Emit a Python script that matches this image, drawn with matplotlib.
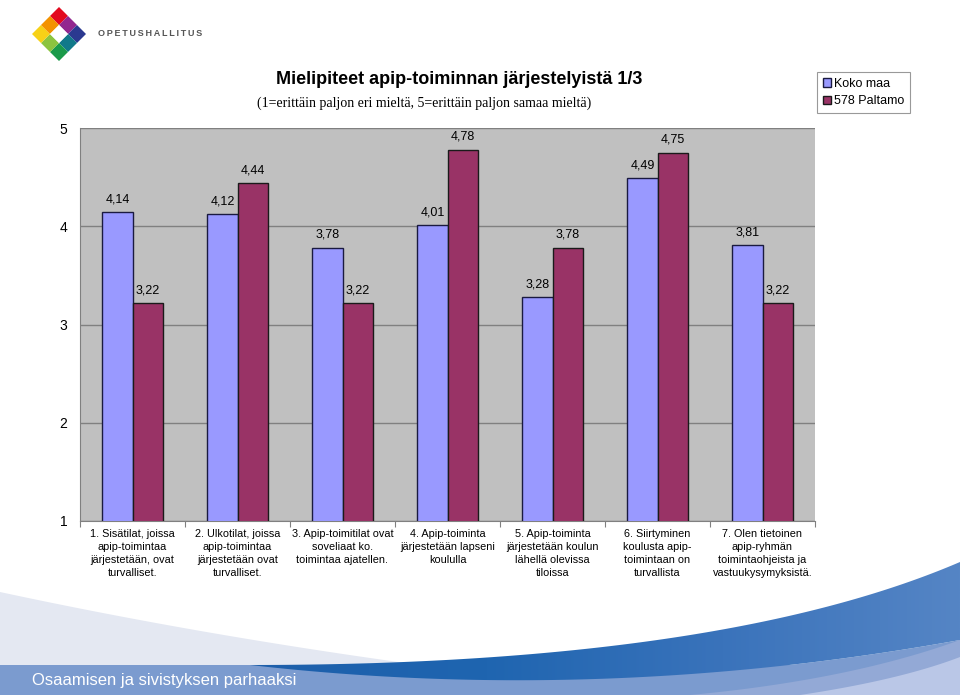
import numpy as np
import matplotlib
matplotlib.use('Agg')
import matplotlib.pyplot as plt
from matplotlib.patches import Polygon

plt.rcParams['font.family'] = ['Liberation Sans', 'DejaVu Sans']

# Data
categories = [
    '1. Sisätilat, joissa\napip-toimintaa\njärjestetään, ovat\nturvalliset.',
    '2. Ulkotilat, joissa\napip-toimintaa\njärjestetään ovat\nturvalliset.',
    '3. Apip-toimitilat ovat\nsoveliaat ko.\ntoimintaa ajatellen.',
    '4. Apip-toiminta\njärjestetään lapseni\nkoululla',
    '5. Apip-toiminta\njärjestetään koulun\nlähellä olevissa\ntiloissa',
    '6. Siirtyminen\nkoulusta apip-\ntoimintaan on\nturvallista',
    '7. Olen tietoinen\napip-ryhmän\ntoimintaohjeista ja\nvastuukysymyksistä.',
]
koko_maa = [4.14, 4.12, 3.78, 4.01, 3.28, 4.49, 3.81]
paltamo = [3.22, 4.44, 3.22, 4.78, 3.78, 4.75, 3.22]
series_names = ['Koko maa', '578 Paltamo']


# Bezier-käyrä taustan aaltoihin
def bez(p0, p1, p2, n=200):
    t = np.linspace(0, 1, n)[:, None]
    p = (1 - t)**2 * np.array(p0) + 2 * (1 - t) * t * np.array(p1) + t**2 * np.array(p2)
    return p[:, 0], p[:, 1]


fig = plt.figure(figsize=(9.6, 6.95), dpi=100)

# Tausta (logo + aalto), pikselikoordinaatit
bg = fig.add_axes([0, 0, 1, 1], zorder=0)
bg.set_xlim(0, 960)
bg.set_ylim(695, 0)
bg.axis('off')

# vaalea aalto vasemmalla
gx, gy = bez((0, 592), (200, 635), (420, 665))
bg.fill(np.r_[gx, 420, 0], np.r_[gy, 695, 695], color='#e4e8f2', lw=0)
# alapalkki
bg.fill([0, 960, 960, 0], [665, 665, 695, 695], color='#7b9bcf', lw=0)
# tumma sininen aalto (liukuväri)
tx, ty = bez((250, 665), (720, 665), (960, 562))
bx, by = bez((250, 665), (600, 705), (960, 640))
bg.fill(np.r_[bx, 960, 250], np.r_[by, 695, 695], color='#7b9bcf', lw=0)
wave = bg.fill(np.r_[tx, bx[::-1]], np.r_[ty, by[::-1]], color='none', lw=0)[0]
grad = np.linspace(0, 1, 256)[None, :]
cmap = matplotlib.colors.LinearSegmentedColormap.from_list(
    'aalto', ['#1d5fab', '#1f65b0', '#3a73bb', '#5585c5'])
im = bg.imshow(grad, cmap=cmap, extent=[250, 960, 695, 555], aspect='auto', zorder=2)
im.set_clip_path(wave)
bg.set_xlim(0, 960)
bg.set_ylim(695, 0)
# oikean reunan vaaleammat raidat
mx, my = bez((690, 695), (850, 680), (960, 640))
by_i = np.interp(mx, bx, by)
bg.fill(np.r_[mx, 960], np.r_[np.maximum(my, by_i), 695], color='#93a9d6', lw=0, zorder=3)
lx, ly = bez((800, 695), (900, 680), (960, 657))
bg.fill(np.r_[lx, 960], np.r_[ly, 695], color='#bac7e7', lw=0, zorder=3)
bg.text(32, 681, 'Osaamisen ja sivistyksen parhaaksi', color='white',
        fontsize=12, va='center', ha='left', zorder=4)

# logo
cx, cy, h = 59, 34, 9
logo_colors = {(-1, -1): '#e30a1f', (0, -1): '#92278f', (1, -1): '#2b3990',
               (1, 0): '#11798a', (1, 1): '#1a9a4a', (0, 1): '#8cc43f',
               (-1, 1): '#f7d117', (-1, 0): '#f39200', (0, 0): 'white'}
for (u, v), col in logo_colors.items():
    px = cx + u * h - v * h
    py = cy + u * h + v * h
    bg.add_patch(Polygon([(px, py - h), (px + h, py), (px, py + h), (px - h, py)],
                         closed=True, color=col, lw=0))
bg.text(98, 33, '\u2009'.join('OPETUSHALLITUS'), fontsize=6.5,
        fontweight='bold', color='#555555', va='center', ha='left')

# Otsikot
fig.text(459 / 960, 1 - 80 / 695, 'Mielipiteet apip-toiminnan järjestelyistä 1/3',
         fontsize=13, fontweight='bold', ha='center', va='center')
fig.text(424 / 960, 1 - 103 / 695,
         '(1=erittäin paljon eri mieltä, 5=erittäin paljon samaa mieltä)',
         fontsize=10, family='Liberation Serif', ha='center', va='center')

# Kaavio
ax = fig.add_axes([80 / 960, 1 - 521 / 695, 735 / 960, 393 / 695], zorder=1)
ax.set_facecolor('#c0c0c0')
x = np.arange(len(categories))
w = 0.286
b1 = ax.bar(x - w / 2, koko_maa, w, color='#9999ff', edgecolor='#1a1a40',
            linewidth=1, zorder=3, label=series_names[0])
b2 = ax.bar(x + w / 2, paltamo, w, color='#993366', edgecolor='#1a1a1a',
            linewidth=1, zorder=3, label=series_names[1])
for bars, vals in ((b1, koko_maa), (b2, paltamo)):
    for r, v in zip(bars, vals):
        ax.text(r.get_x() + r.get_width() / 2, v + 0.07, f'{v:.2f}'.replace('.', ','),
                ha='center', va='bottom', fontsize=9, zorder=4)

ax.set_ylim(1, 5)
ax.set_xlim(-0.5, len(categories) - 0.5)
ax.set_yticks([1, 2, 3, 4, 5])
ax.yaxis.grid(True, color='#808080', linewidth=1, zorder=1)
ax.tick_params(axis='y', length=0, labelsize=10, pad=9)
ax.set_xticks(np.arange(len(categories) + 1) - 0.5)
ax.set_xticklabels([])
ax.tick_params(axis='x', length=4, color='#808080')
for xi, lab in zip(x, categories):
    ax.text(xi, -0.021, lab, ha='center', va='top', fontsize=7.8,
            transform=ax.get_xaxis_transform(), linespacing=1.35)
for s in ['top', 'right']:
    ax.spines[s].set_visible(False)
ax.spines['left'].set_color('#808080')
ax.spines['bottom'].set_color('#808080')

leg = fig.legend(handles=[b1, b2], labels=series_names, loc='upper left',
                 bbox_to_anchor=(817 / 960, 1 - 72 / 695), fontsize=9,
                 frameon=True, fancybox=False, edgecolor='#808080',
                 handlelength=0.7, handleheight=0.7, handletextpad=0.2,
                 labelspacing=0.45, borderpad=0.45, borderaxespad=0)
leg.get_frame().set_linewidth(0.8)

fig.savefig('out.png', dpi=100)
